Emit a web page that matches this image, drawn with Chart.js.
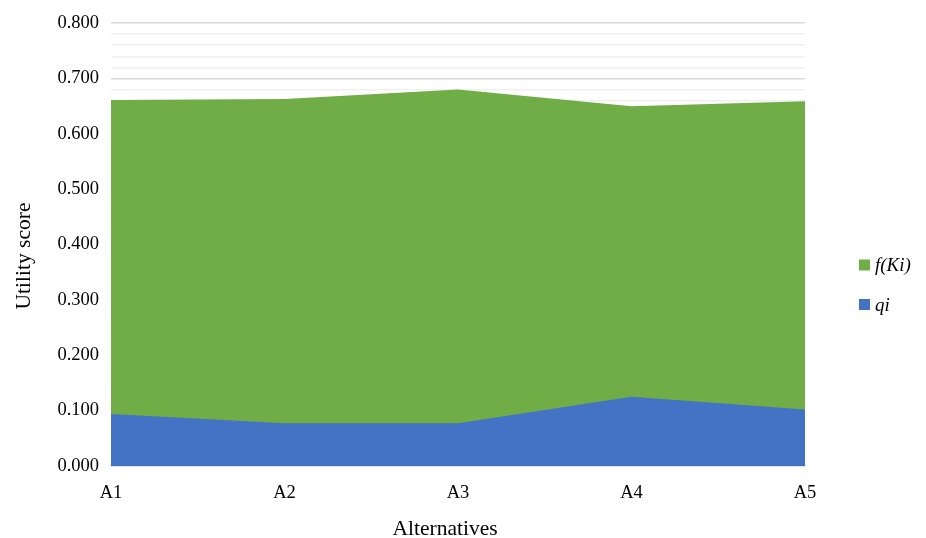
<!DOCTYPE html>
<html>
<head>
<meta charset="utf-8">
<script src="https://cdn.jsdelivr.net/npm/chart.js@4.4.1/dist/chart.umd.min.js"></script>
<style>
  html, body { margin: 0; padding: 0; background: #ffffff; }
  #wrap { width: 926px; height: 538px; position: relative; }
</style>
</head>
<body>
<div id="wrap"><canvas id="c" width="926" height="538"></canvas></div>
<script>
// Alternatives and their scores
const alternatives = ['A1', 'A2', 'A3', 'A4', 'A5'];
const fKi = [0.661, 0.663, 0.680, 0.650, 0.659];
const qi = [0.094, 0.077, 0.077, 0.125, 0.102];
const seriesNames = ['qi', 'f(Ki)'];
const yTitle = 'Utility score';
const xTitle = 'Alternatives';

const FONT = '"Liberation Serif", "Times New Roman", serif';

// Legend at the right (f(Ki) listed first) and both axis titles
const sideLegend = {
  id: 'sideLegend',
  afterDraw(chart) {
    const ctx = chart.ctx;
    const items = chart.data.datasets.slice().reverse();
    ctx.save();
    items.forEach((ds, i) => {
      const cy = 265 + i * 39.5;
      ctx.fillStyle = ds.backgroundColor;
      ctx.fillRect(859, cy - 5.5, 11, 11);
      ctx.fillStyle = '#000000';
      ctx.font = 'italic 19px ' + FONT;
      ctx.textBaseline = 'middle';
      ctx.textAlign = 'left';
      ctx.fillText(ds.label, 875, cy + 1);
    });
    ctx.font = '21.5px ' + FONT;
    ctx.textAlign = 'center';
    ctx.textBaseline = 'middle';
    ctx.fillText(xTitle, 445, 529);
    ctx.translate(24, 256);
    ctx.rotate(-Math.PI / 2);
    ctx.fillText(yTitle, 0, 0);
    ctx.restore();
  }
};

new Chart(document.getElementById('c'), {
  type: 'line',
  data: {
    labels: alternatives,
    datasets: [
      {
        label: seriesNames[0],
        data: qi,
        backgroundColor: '#4472C4',
        borderColor: '#4472C4',
        borderWidth: 0,
        fill: 'origin',
        pointRadius: 0,
        tension: 0
      },
      {
        label: seriesNames[1],
        data: fKi,
        backgroundColor: '#70AD47',
        borderColor: '#70AD47',
        borderWidth: 0,
        fill: 'origin',
        pointRadius: 0,
        tension: 0
      }
    ]
  },
  options: {
    responsive: false,
    animation: false,
    devicePixelRatio: 1,
    layout: { padding: { top: 23, right: 121, left: 0, bottom: 0 } },
    plugins: {
      legend: { display: false },
      tooltip: { enabled: false }
    },
    scales: {
      x: {
        offset: false,
        grid: { display: false, drawTicks: false },
        border: { display: true, color: '#d9d9d9', width: 1.5 },
        ticks: {
          color: '#000000',
          font: { family: FONT, size: 18.5 },
          padding: 16,
          maxRotation: 0,
          autoSkip: false
        },
        title: { display: false },
        afterFit(scale) { scale.height = 72; }
      },
      y: {
        min: 0,
        max: 0.8,
        grid: {
          drawTicks: false,
          lineWidth: 1.5,
          color(ctx) {
            const v = Math.round(ctx.tick.value * 100);
            return v % 10 === 0 ? '#d9d9d9' : '#f0f0f0';
          }
        },
        border: { display: false },
        ticks: {
          stepSize: 0.02,
          color: '#000000',
          font: { family: FONT, size: 18.5 },
          padding: 12,
          autoSkip: false,
          callback(value) {
            const v = Math.round(value * 100);
            return v % 10 === 0 ? value.toFixed(3) : '';
          }
        },
        title: { display: false },
        afterFit(scale) { scale.width = 111; }
      }
    }
  },
  plugins: [sideLegend]
});
</script>
</body>
</html>
